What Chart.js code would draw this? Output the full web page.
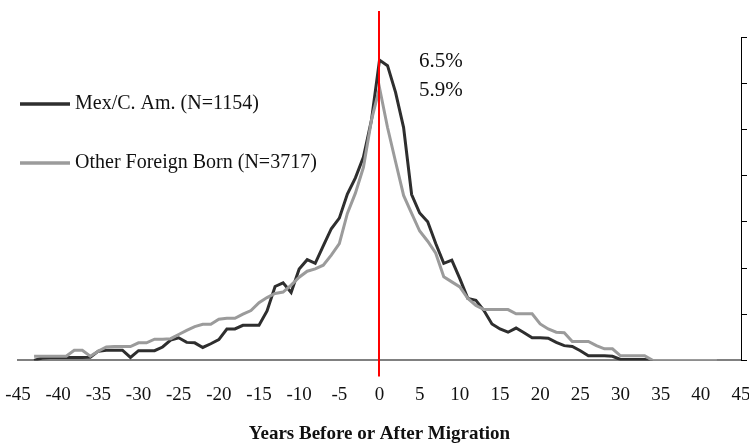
<!DOCTYPE html>
<html>
<head>
<meta charset="utf-8">
<script src="https://cdn.jsdelivr.net/npm/chart.js@4/dist/chart.umd.min.js"></script>
<style>
  html, body { margin: 0; padding: 0; background: #fff; }
  #wrap { width: 749px; height: 444px; position: relative; }
</style>
</head>
<body>
<div id="wrap"><canvas id="chart" width="749" height="444"></canvas></div>
<script>
// years relative to migration
const years = [];
for (let t = -43; t <= 42; t++) years.push(t);

// percent of person-years, Mex/C. Am. (ends at year 34)
const mexValues = [
  0, 0.05, 0.065, 0.065, 0.065, 0.065, 0.065, 0.07, 0.2, 0.22,
  0.22, 0.22, 0.065, 0.21, 0.21, 0.21, 0.29, 0.44, 0.49, 0.39,
  0.38, 0.28, 0.36, 0.45, 0.68, 0.68, 0.76, 0.76, 0.76, 1.07,
  1.6, 1.68, 1.47, 1.98, 2.18, 2.1, 2.48, 2.85, 3.08, 3.6,
  3.95, 4.4, 5.2, 6.5, 6.38, 5.8, 5.04, 3.59, 3.19, 3.0,
  2.53, 2.1, 2.17, 1.77, 1.34, 1.3, 1.08, 0.79, 0.68, 0.61,
  0.7, 0.6, 0.49, 0.49, 0.48, 0.39, 0.32, 0.3, 0.21, 0.1,
  0.1, 0.1, 0.09, 0.02, 0.02, 0.02, 0.02, 0
];

// percent of person-years, other foreign born
const otherValues = [
  0.09, 0.09, 0.09, 0.09, 0.09, 0.22, 0.22, 0.09, 0.2, 0.29,
  0.3, 0.3, 0.3, 0.38, 0.38, 0.46, 0.46, 0.47, 0.56, 0.65,
  0.73, 0.78, 0.78, 0.89, 0.91, 0.91, 1.0, 1.08, 1.25, 1.36,
  1.45, 1.48, 1.63, 1.8, 1.93, 1.98, 2.06, 2.28, 2.53, 3.18,
  3.62, 4.18, 5.2, 5.9, 5.04, 4.3, 3.57, 3.18, 2.8, 2.58,
  2.32, 1.81, 1.7, 1.59, 1.34, 1.19, 1.1, 1.1, 1.1, 1.1,
  1.01, 1.01, 1.01, 0.79, 0.68, 0.61, 0.6, 0.41, 0.41, 0.41,
  0.32, 0.25, 0.25, 0.1, 0.1, 0.1, 0.1, 0, 0, 0,
  0, 0, 0, 0, 0, 0
];

const seriesNames = ["Mex/C. Am. (N=1154)", "Other Foreign Born (N=3717)"];
const peakLabels = ["6.5%", "5.9%"];
const xTicks = [-45, 45, 5];

const serif = "'Liberation Serif', 'DejaVu Serif', serif";
const darkColor = "#2e2e2e";
const greyColor = "#9b9b9b";

const toPoints = (vals) => vals.map((v, i) => ({ x: years[i], y: v }));

// red line at 0, legend and peak labels
const overlay = {
  id: "overlay",
  afterDatasetsDraw(chart) {
    const ctx = chart.ctx;
    const x0 = Math.round(chart.scales.x.getPixelForValue(0)) - 1;
    const yBase = chart.scales.y.getPixelForValue(0);
    ctx.save();
    ctx.strokeStyle = "#ff0000";
    ctx.lineWidth = 2;
    ctx.beginPath();
    ctx.moveTo(x0, 11);
    ctx.lineTo(x0, yBase + 16);
    ctx.stroke();

    ctx.font = "20px " + serif;
    ctx.fillStyle = "#111";
    ctx.textBaseline = "middle";
    const legendRows = [104, 163];
    const colors = [darkColor, greyColor];
    legendRows.forEach((y, i) => {
      ctx.strokeStyle = colors[i];
      ctx.lineWidth = 3.5;
      ctx.beginPath();
      ctx.moveTo(20, y);
      ctx.lineTo(70, y);
      ctx.stroke();
      ctx.fillText(seriesNames[i], 75, y);
    });

    ctx.font = "21px " + serif;
    ctx.fillText(peakLabels[0], 419, 61);
    ctx.fillText(peakLabels[1], 419, 90);
    ctx.restore();
  }
};

new Chart(document.getElementById("chart"), {
  type: "line",
  data: {
    datasets: [
      {
        label: seriesNames[0],
        data: toPoints(mexValues),
        borderColor: darkColor,
        borderWidth: 3,
        pointRadius: 0,
        tension: 0,
        order: 1
      },
      {
        label: seriesNames[1],
        data: toPoints(otherValues),
        borderColor: greyColor,
        borderWidth: 3,
        pointRadius: 0,
        tension: 0,
        order: 0
      }
    ]
  },
  options: {
    responsive: false,
    animation: false,
    layout: { padding: { left: 18, right: 0, top: 37, bottom: 0 } },
    plugins: { legend: { display: false }, tooltip: { enabled: false } },
    scales: {
      x: {
        type: "linear",
        min: xTicks[0],
        max: xTicks[1],
        grid: { display: false },
        border: { color: "#808080", width: 2 },
        ticks: {
          stepSize: xTicks[2],
          color: "#111",
          padding: 15,
          font: { family: serif, size: 19 },
          callback: (v) => String(v)
        },
        title: {
          display: true,
          text: "Years Before or After Migration",
          color: "#111",
          font: { family: serif, size: 19, weight: "bold" },
          padding: { top: 1, bottom: -1 }
        },
        afterFit(scale) {
          // let the end labels hang past the plot edges
          scale.paddingLeft = 0;
          scale.paddingRight = 0;
        }
      },
      y: {
        position: "right",
        min: 0,
        max: 7,
        grid: { drawOnChartArea: false, tickLength: 6, color: "#000" },
        border: { color: "#000", width: 1 },
        ticks: { display: false, stepSize: 1 },
        afterFit(scale) {
          scale.width = 8;
        }
      }
    }
  },
  plugins: [overlay]
});
</script>
</body>
</html>
